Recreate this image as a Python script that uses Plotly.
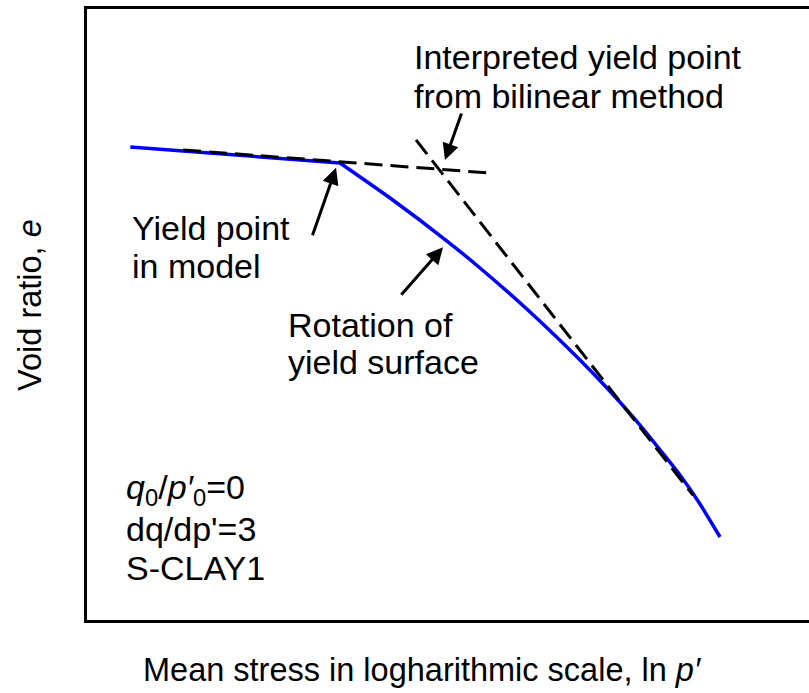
import plotly.graph_objects as go

# Model response: void ratio against ln p'
# elastic branch (up to the model yield point)
ln_p_pre = [0.60, 3.504]
e_pre = [1.042, 1.0236]
# post-yield branch
ln_p_post = [3.504, 4.197, 4.986, 5.443, 6.136, 6.828, 7.202, 7.562, 7.895, 8.213, 8.490, 8.767]
e_post = [1.0236, 0.9835, 0.9342, 0.9033, 0.8529, 0.7979, 0.7658, 0.7326, 0.6993, 0.6661, 0.6329, 0.5951]

# Bilinear construction: elastic (pre-yield) and plastic (post-yield) lines
ln_p_elastic = [1.33, 5.58]
e_elastic = [1.0385, 1.0121]
ln_p_plastic = [4.557, 8.393]
e_plastic = [1.050, 0.643]

FONT = "Arial, Liberation Sans, sans-serif"
FS = 34
FS_TITLE = 32.5

fig = go.Figure()
fig.add_trace(go.Scatter(x=ln_p_pre, y=e_pre, mode="lines",
                         line=dict(color="#0000ff", width=3.5), hoverinfo="skip"))
fig.add_trace(go.Scatter(x=ln_p_post, y=e_post, mode="lines",
                         line=dict(color="#0000ff", width=3.5, shape="spline", smoothing=0.5),
                         hoverinfo="skip"))
for xs, ys in [(ln_p_elastic, e_elastic), (ln_p_plastic, e_plastic)]:
    fig.add_trace(go.Scatter(x=xs, y=ys, mode="lines",
                             line=dict(color="black", width=3, dash="18px,8px"),
                             hoverinfo="skip"))

# Arrows (head -> tail in data units)
arrows = [
    ((4.958, 1.027), (5.194, 1.082)),
    ((3.449, 1.018), (3.116, 0.939)),
    ((4.931, 0.927), (4.335, 0.871)),
]
for (hx, hy), (tx, ty) in arrows:
    fig.add_annotation(x=hx, y=hy, ax=tx, ay=ty, xref="x", yref="y",
                       axref="x", ayref="y", text="", showarrow=True,
                       arrowhead=2, arrowsize=1.1, arrowwidth=3,
                       arrowcolor="black", standoff=0)

labels = [
    (4.50, 1.145, "Interpreted yield point"),
    (4.50, 1.100, "from bilinear method"),
    (0.595, 0.949, "Yield point"),
    (0.595, 0.906, "in model"),
    (2.756, 0.838, "Rotation of"),
    (2.756, 0.796, "yield surface"),
    (0.512, 0.649, "<i>q</i><sub>0</sub>/<i>p′</i><sub>0</sub>=0"),
    (0.512, 0.604, "dq/dp'=3"),
    (0.512, 0.560, "S-CLAY1"),
]
for x, y, t in labels:
    fig.add_annotation(x=x, y=y, xref="x", yref="y", text=t, showarrow=False,
                       xanchor="left", yanchor="middle",
                       font=dict(family=FONT, size=FS, color="black"))

# Axis titles
fig.add_annotation(x=4.64, y=-50 / 611, xref="x", yref="paper",
                   text="Mean stress in logharithmic scale, ln <i>p′</i>",
                   showarrow=False, xanchor="center", yanchor="middle",
                   font=dict(family=FONT, size=FS_TITLE, color="black"))
fig.add_annotation(x=-57 / 722, y=0.861, xref="paper", yref="y",
                   text="Void ratio, <i>e</i>", textangle=-90,
                   showarrow=False, xanchor="center", yanchor="middle",
                   font=dict(family=FONT, size=FS_TITLE, color="black"))

fig.update_xaxes(range=[0, 10], showgrid=False, zeroline=False, showticklabels=False,
                 ticks="", showline=True, linecolor="black", linewidth=3, mirror=True)
fig.update_yaxes(range=[0.50, 1.20], showgrid=False, zeroline=False, showticklabels=False,
                 ticks="", showline=True, linecolor="black", linewidth=3, mirror=False)
fig.update_layout(width=809, height=693, showlegend=False,
                  margin=dict(l=87, r=0, t=9, b=73),
                  paper_bgcolor="white", plot_bgcolor="white")

fig.write_html("out.html")
